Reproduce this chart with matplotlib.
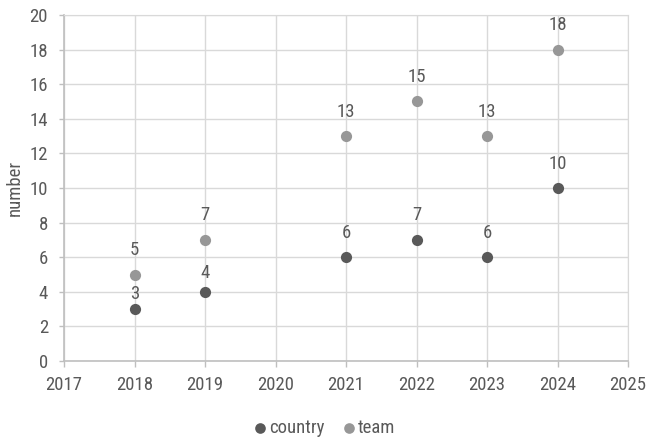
import matplotlib.pyplot as plt
import numpy as np

plt.rcParams['font.family'] = ['Roboto Condensed', 'Liberation Sans', 'DejaVu Sans']

years = [2018, 2019, 2021, 2022, 2023, 2024]
country = [3, 4, 6, 7, 6, 10]
team = [5, 7, 13, 15, 13, 18]

# label lift above each point (points); the low country labels sit closer
country_lift = [7, 10, 14, 14, 14, 14]
team_lift = [14, 14, 14, 14, 14, 14]

dark = "#595959"
light = "#979797"
text_color = "#595959"

fig = plt.figure(figsize=(6.46, 4.4), dpi=100)
ax = fig.add_axes([64 / 646, 1 - 361 / 440, (628 - 64) / 646, (361 - 15) / 440])

ax.scatter(years, country, s=65, color=dark, zorder=3, label="country", linewidths=0)
ax.scatter(years, team, s=65, color=light, zorder=3, label="team", linewidths=0)

for x, y, dy in zip(years, country, country_lift):
    ax.annotate(str(y), (x, y), xytext=(0, dy), textcoords="offset points",
                ha="center", va="baseline", fontsize=13.5, color=text_color)
for x, y, dy in zip(years, team, team_lift):
    ax.annotate(str(y), (x, y), xytext=(0, dy), textcoords="offset points",
                ha="center", va="baseline", fontsize=13.5, color=text_color)

ax.set_xlim(2017, 2025)
ax.set_ylim(0, 20)
ax.set_xticks(np.arange(2017, 2026, 1))
ax.set_yticks(np.arange(0, 21, 2))
ax.grid(color="#d9d9d9", linewidth=1)
ax.set_axisbelow(True)

for side in ["top", "right"]:
    ax.spines[side].set_color("#d9d9d9")
for side in ["left", "bottom"]:
    ax.spines[side].set_color("#bfbfbf")
    ax.spines[side].set_linewidth(1.2)

ax.tick_params(axis="both", colors="#bfbfbf", labelcolor=text_color, labelsize=13.5, width=1)
ax.tick_params(axis="y", length=3.6, pad=8)
ax.tick_params(axis="x", length=4.5, pad=6)
ax.set_ylabel("number", fontsize=13.5, color=text_color, labelpad=4)

fig.legend(loc="lower center", bbox_to_anchor=(0.5, -0.032), ncol=2, frameon=False,
           fontsize=13.5, labelcolor=text_color, handletextpad=0.0, columnspacing=0.8,
           handlelength=1.0, markerscale=0.95)

fig.savefig("out.png", dpi=100)
